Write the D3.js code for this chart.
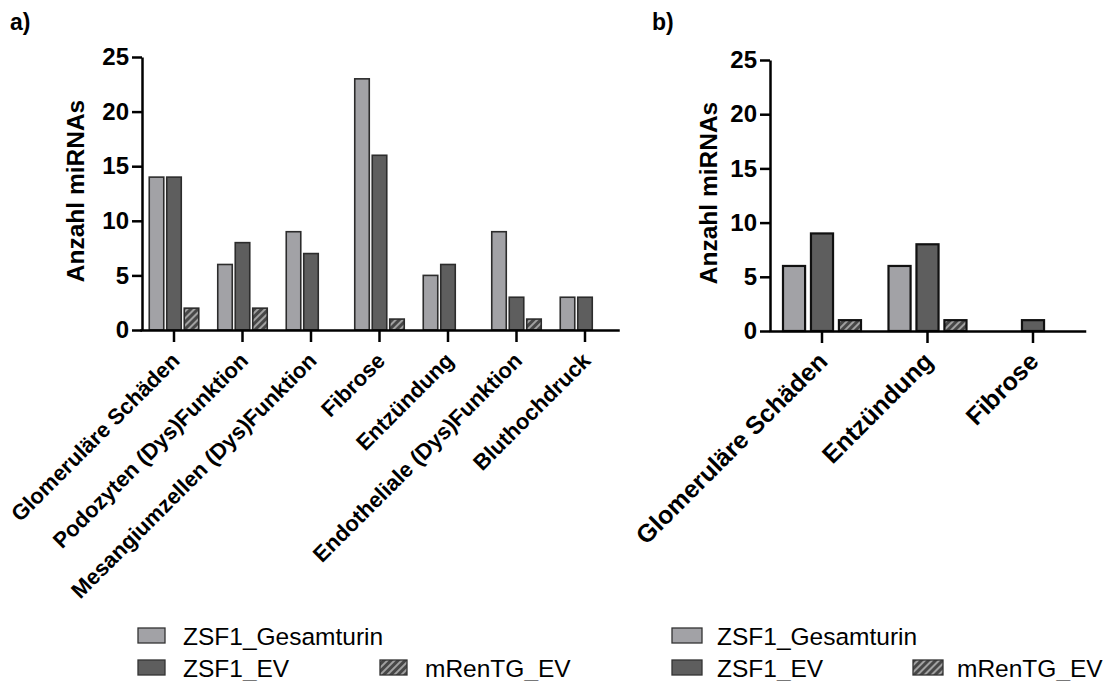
<!DOCTYPE html>
<html>
<head>
<meta charset="utf-8">
<script src="https://cdn.jsdelivr.net/npm/d3@7"></script>
<style>
	body { margin: 0; background: #fff; }
	svg text { font-family: "Liberation Sans", Arial, sans-serif; fill: #000; }
</style>
</head>
<body>
<div id="chart"></div>
<script>
// data
let series_names = ["ZSF1_Gesamturin", "ZSF1_EV", "mRenTG_EV"];
let y_ticks = [0, 5, 10, 15, 20, 25];

let cats_a = ["Glomeruläre Schäden", "Podozyten (Dys)Funktion", "Mesangiumzellen (Dys)Funktion",
	"Fibrose", "Entzündung", "Endotheliale (Dys)Funktion", "Bluthochdruck"];
let gesamt_a = [14, 6, 9, 23, 5, 9, 3];
let ev_a = [14, 8, 7, 16, 6, 3, 3];
let mren_a = [2, 2, 0, 1, 0, 1, 0];

let cats_b = ["Glomeruläre Schäden", "Entzündung", "Fibrose"];
let gesamt_b = [6, 6, 0];
let ev_b = [9, 8, 1];
let mren_b = [1, 1, 0];

let colors = {"ZSF1_Gesamturin": "#a2a2a6", "ZSF1_EV": "#5e5e5e", "mRenTG_EV": "url(#hatch)"};

function chart() {
	let svg = d3.select("#chart")
		.append("svg")
		.attr("width", 1120)
		.attr("height", 681);

	// hatch for mRenTG_EV
	let pat = svg.append("defs").append("pattern")
		.attr("id", "hatch")
		.attr("patternUnits", "userSpaceOnUse")
		.attr("width", 5)
		.attr("height", 5)
		.attr("patternTransform", "rotate(45)");
	pat.append("rect").attr("width", 5).attr("height", 5).attr("fill", "#474747");
	pat.append("line").attr("x1", 1).attr("y1", 0).attr("x2", 1).attr("y2", 5)
		.attr("stroke", "#b8b8b8").attr("stroke-width", 1.6);

	function panel(cfg) {
		let g = svg.append("g").attr("class", "panel");

		let x = d3.scaleBand()
			.domain(cfg.cats)
			.range([cfg.x0, cfg.x1])
			.padding(0);

		let sub = d3.scaleBand()
			.domain(series_names)
			.range([-cfg.half, cfg.half])
			.paddingInner(cfg.pad)
			.paddingOuter(0);

		let y = d3.scaleLinear()
			.domain([0, 25])
			.range([cfg.y0, cfg.y1]);

		let rows = [];
		cfg.cats.forEach(function (c, i) {
			cfg.vals.forEach(function (v, k) {
				if (v[i] > 0) rows.push({cat: c, s: series_names[k], v: v[i]});
			});
		});

		g.append("g")
			.selectAll("rect")
			.data(rows)
			.enter()
			.append("rect")
			.attr("x", function (d) { return x(d.cat) + x.bandwidth() / 2 + sub(d.s); })
			.attr("y", function (d) { return y(d.v); })
			.attr("width", sub.bandwidth())
			.attr("height", function (d) { return y(0) - y(d.v); })
			.attr("fill", function (d) { return colors[d.s]; })
			.attr("stroke", cfg.stroke)
			.attr("stroke-width", cfg.sw);

		// y axis
		let ya = g.append("g")
			.attr("transform", "translate(" + cfg.ax + ",0)")
			.call(d3.axisLeft(y).tickValues(y_ticks).tickSize(10).tickSizeOuter(0).tickPadding(3));
		ya.selectAll("path, line").attr("stroke", "#000").attr("stroke-width", 2.5);
		ya.selectAll("text")
			.attr("font-size", 24)
			.attr("font-weight", "bold")
			.attr("font-family", "Liberation Sans, Arial, sans-serif");

		// x axis
		let xa = g.append("g")
			.attr("transform", "translate(0," + cfg.y0 + ")")
			.call(d3.axisBottom(x).tickSize(12).tickSizeOuter(0));
		xa.selectAll("path, line").attr("stroke", "#000").attr("stroke-width", 2.5);
		xa.selectAll("text")
			.attr("x", 0)
			.attr("y", 0)
			.attr("dy", 0)
			.attr("text-anchor", "end")
			.attr("transform", "translate(" + cfg.lx + "," + cfg.ly + ") rotate(-45)")
			.attr("font-size", cfg.lfs)
			.attr("font-weight", "bold")
			.attr("font-family", "Liberation Sans, Arial, sans-serif");

		g.append("text")
			.text("Anzahl miRNAs")
			.attr("transform", "translate(" + cfg.tx + "," + cfg.ty + ") rotate(-90)")
			.attr("text-anchor", "middle")
			.attr("font-size", 24.5)
			.attr("font-weight", "bold");

		g.append("text")
			.text(cfg.tag)
			.attr("x", cfg.tagx)
			.attr("y", 30)
			.attr("font-size", 23)
			.attr("font-weight", "bold");

		// legend
		let leg = g.append("g").attr("class", "legend");
		cfg.legend.forEach(function (l) {
			leg.append("rect")
				.attr("x", l[1])
				.attr("y", l[2])
				.attr("width", cfg.sww)
				.attr("height", 15)
				.attr("fill", colors[l[0]])
				.attr("stroke", "#333")
				.attr("stroke-width", 1.3);
			leg.append("text")
				.text(l[0])
				.attr("x", l[3])
				.attr("y", l[2] + 17)
				.attr("font-size", 24.5);
		});
	}

	panel({
		cats: cats_a, vals: [gesamt_a, ev_a, mren_a],
		x0: 139.75, x1: 619.25, half: 24.75, pad: 0.17,
		y0: 330, y1: 57, ax: 142,
		stroke: "#2c2c2c", sw: 1.6,
		lx: 7, ly: 32, lfs: 22,
		tx: 84, ty: 191, tag: "a)", tagx: 10,
		sww: 27,
		legend: [["ZSF1_Gesamturin", 138, 628, 183], ["ZSF1_EV", 138, 660, 183], ["mRenTG_EV", 380, 660, 425]]
	});

	panel({
		cats: cats_b, vals: [gesamt_b, ev_b, mren_b],
		x0: 769.25, x1: 1085.75, half: 39, pad: 0.21,
		y0: 331, y1: 60, ax: 770,
		stroke: "#111", sw: 2.2,
		lx: 7, ly: 32, lfs: 25,
		tx: 717, ty: 193, tag: "b)", tagx: 652,
		sww: 30,
		legend: [["ZSF1_Gesamturin", 672, 628, 717], ["ZSF1_EV", 672, 660, 717], ["mRenTG_EV", 913, 660, 957]]
	});
}

chart();
</script>
</body>
</html>
